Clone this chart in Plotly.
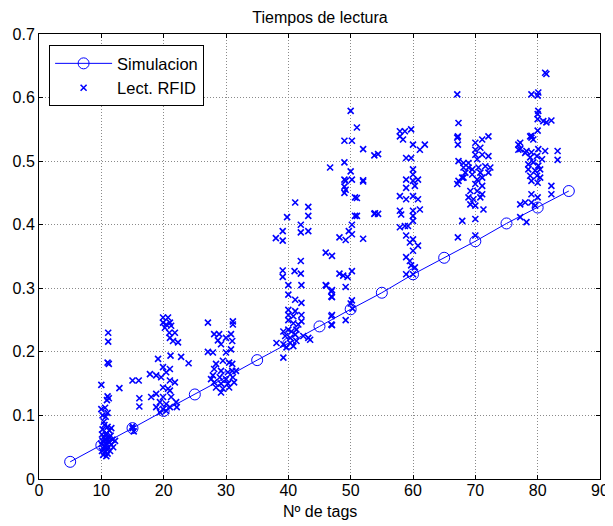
import plotly.graph_objects as go

sim_x = [5, 10, 15, 20, 25, 30, 35, 40, 45, 50, 55, 60, 65, 70, 75, 80, 85]
sim_y = [0.027, 0.053, 0.080, 0.107, 0.133, 0.160, 0.187, 0.213, 0.240, 0.267,
         0.293, 0.322, 0.348, 0.374, 0.402, 0.427, 0.453]

# Lect. RFID readings, grouped by cluster (x, y)
pts_10 = [(10.0,0.148),(11.1,0.230),(11.1,0.216),(11.0,0.183),(11.2,0.181),(11.0,0.130),
          (11.2,0.127),(10.9,0.124),(10.0,0.110),(10.6,0.112),(10.2,0.100),(10.7,0.098),
          (11.0,0.104),(10.5,0.085),(11.0,0.082),(10.2,0.078),(11.3,0.076),(10.8,0.072),
          (10.1,0.070),(11.5,0.068),(10.4,0.066),(11.0,0.064),(10.6,0.062),(11.8,0.062),
          (10.2,0.060),(11.3,0.058),(10.8,0.056),(10.0,0.055),(11.6,0.054),(10.5,0.052),
          (11.1,0.050),(10.3,0.048),(11.9,0.050),(10.9,0.046),(10.1,0.044),(11.4,0.044),
          (10.6,0.042),(11.0,0.040),(10.3,0.038),(10.8,0.036),(11.2,0.065),(10.7,0.070),
          (11.6,0.080),(12.2,0.060),(10.4,0.090)]
pts_15 = [(12.9,0.143),(15.0,0.155),(16.0,0.155),(16.1,0.127),(16.1,0.114),(15.0,0.083),
          (15.2,0.075),(15.0,0.080)]
pts_20 = [(19.9,0.254),(20.7,0.254),(19.9,0.246),(20.4,0.243),(21.0,0.246),(20.2,0.238),
          (21.2,0.241),(20.9,0.230),(21.8,0.230),(21.0,0.222),(21.5,0.217),(22.3,0.215),
          (19.1,0.189),(21.1,0.194),(22.8,0.192),(24.0,0.182),(19.9,0.176),(21.0,0.173),
          (20.4,0.168),(17.8,0.165),(18.8,0.163),(19.6,0.160),(21.0,0.155),(21.8,0.152),
          (19.9,0.144),(20.7,0.142),(21.0,0.139),(18.8,0.134),(19.9,0.129),(21.2,0.129),
          (19.4,0.121),(20.4,0.118),(22.0,0.121),(18.8,0.113),(19.9,0.110),(21.0,0.113),
          (22.1,0.113),(19.4,0.105),(20.4,0.107),(18.0,0.129)]
pts_30 = [(27.1,0.246),(31.1,0.248),(31.1,0.243),(28.1,0.228),(28.9,0.228),(28.7,0.218),
          (30.0,0.222),(30.8,0.228),(31.0,0.217),(29.2,0.212),(27.1,0.200),(27.9,0.199),
          (30.0,0.199),(30.8,0.204),(28.4,0.181),(29.5,0.186),(30.5,0.183),(31.0,0.181),
          (28.1,0.173),(29.2,0.170),(30.3,0.168),(31.0,0.170),(27.9,0.163),(29.0,0.160),
          (30.0,0.157),(31.1,0.160),(28.1,0.152),(29.2,0.150),(30.3,0.150),(31.3,0.152),
          (28.4,0.144),(29.5,0.142),(30.5,0.144),(27.6,0.157),(31.6,0.170),(29.2,0.136)]
pts_40 = [(40.0,0.305),(42.1,0.305),(46.1,0.304),(46.9,0.295),(46.9,0.287),(40.0,0.290),
          (41.1,0.282),(42.1,0.277),(40.0,0.266),(41.1,0.264),(40.0,0.258),(40.8,0.256),
          (42.1,0.258),(42.1,0.248),(40.0,0.250),(40.8,0.245),(41.6,0.243),(39.2,0.232),
          (40.0,0.235),(40.5,0.232),(41.3,0.235),(39.5,0.225),(40.3,0.222),(41.1,0.227),
          (42.4,0.225),(43.2,0.222),(38.1,0.214),(39.2,0.212),(40.3,0.214),(41.3,0.217),
          (39.7,0.207),(40.8,0.209),(39.2,0.191),(46.9,0.256),(46.9,0.243),(43.5,0.219),
          (41.1,0.435),(43.2,0.428),(43.2,0.414),(39.8,0.412),(42.0,0.400),(42.0,0.388),
          (43.2,0.390),(39.1,0.390),(38.0,0.379),(39.1,0.375),(42.0,0.343),(39.1,0.328),
          (39.1,0.318),(41.0,0.327),(42.0,0.323)]
pts_50 = [(46.0,0.356),(47.0,0.351),(46.0,0.305),(47.0,0.297),(47.0,0.286),(47.0,0.258),
          (47.0,0.242),(49.2,0.250),(48.2,0.380),(49.2,0.376),(49.7,0.390),(50.2,0.400),
          (50.2,0.385),(50.7,0.414),(50.7,0.443),(52.0,0.378),(53.9,0.418),(49.2,0.469),
          (49.2,0.455),(52.0,0.470),(48.2,0.323),(48.8,0.320),(49.5,0.318),(49.2,0.302),
          (50.2,0.327),(50.0,0.276),(50.2,0.281),(50.3,0.268),(50.0,0.579),(51.0,0.553),
          (49.0,0.532),(50.2,0.532),(52.0,0.519),(53.8,0.509),(46.7,0.490),(49.0,0.498),
          (50.0,0.484),(49.0,0.471),(50.2,0.471),(52.0,0.468),(49.0,0.460),(49.0,0.450),
          (51.0,0.442),(51.0,0.414),(53.8,0.417),(54.4,0.511),(54.4,0.417)]
pts_60 = [(57.9,0.547),(58.7,0.547),(59.7,0.550),(57.9,0.539),(58.4,0.534),(60.0,0.526),
          (61.1,0.518),(61.9,0.526),(58.9,0.505),(59.7,0.505),(60.0,0.487),(60.0,0.479),
          (58.9,0.471),(60.0,0.469),(60.8,0.471),(58.9,0.458),(60.3,0.461),(57.9,0.445),
          (58.9,0.440),(60.0,0.445),(60.8,0.440),(61.1,0.424),(57.9,0.422),(58.1,0.416),
          (60.0,0.422),(60.0,0.414),(60.0,0.406),(57.9,0.396),(58.7,0.398),(59.2,0.398),
          (58.9,0.383),(60.0,0.377),(59.5,0.372),(60.8,0.367),(60.0,0.359),(58.9,0.349),
          (59.5,0.343),(59.7,0.336),(60.3,0.333),(58.9,0.322),(60.0,0.322)]
pts_70 = [(67.3,0.560),(67.2,0.539),(67.2,0.526),(70.0,0.529),(71.1,0.534),(72.1,0.539),
          (70.0,0.518),(70.8,0.521),(70.0,0.510),(71.1,0.510),(72.1,0.508),(70.3,0.503),
          (67.3,0.500),(68.1,0.497),(68.9,0.497),(68.1,0.490),(68.9,0.490),(69.5,0.487),
          (70.5,0.490),(71.6,0.492),(72.4,0.490),(68.4,0.482),(69.5,0.479),(70.8,0.482),
          (72.1,0.482),(68.1,0.474),(70.3,0.471),(71.1,0.474),(67.3,0.469),(67.9,0.474),
          (67.1,0.464),(70.0,0.464),(71.1,0.461),(69.2,0.453),(70.3,0.453),(71.1,0.448),
          (68.9,0.443),(69.7,0.440),(70.8,0.443),(69.2,0.432),(70.0,0.430),(71.3,0.424),
          (67.9,0.406),(70.0,0.409),(67.2,0.380),(70.0,0.383),(67.1,0.605),(67.1,0.537)]
pts_80 = [(81.2,0.639),(81.4,0.637),(79.0,0.605),(80.1,0.608),(80.0,0.603),(80.1,0.579),
          (80.0,0.574),(80.0,0.566),(80.9,0.563),(81.4,0.561),(82.2,0.564),(80.0,0.548),
          (79.0,0.537),(79.0,0.540),(77.2,0.529),(77.2,0.519),(78.2,0.516),(79.0,0.514),
          (80.1,0.519),(81.2,0.516),(83.2,0.516),(83.2,0.502),(78.8,0.506),(79.9,0.508),
          (80.7,0.503),(78.5,0.495),(79.3,0.498),(80.1,0.493),(78.5,0.487),(79.6,0.485),
          (80.4,0.487),(78.8,0.477),(79.9,0.477),(80.4,0.474),(79.0,0.469),(80.0,0.466),
          (82.2,0.461),(82.2,0.448),(79.0,0.448),(80.0,0.443),(77.2,0.432),(78.0,0.435),
          (79.0,0.435),(79.6,0.430),(77.2,0.412),(78.2,0.404),(76.9,0.526),(76.9,0.518),
          (78.8,0.539),(79.3,0.534),(78.0,0.513)]

all_pts = pts_10 + pts_15 + pts_20 + pts_30 + pts_40 + pts_50 + pts_60 + pts_70 + pts_80
rfid_x = [p[0] for p in all_pts]
rfid_y = [p[1] for p in all_pts]

x_ticks = [0, 10, 20, 30, 40, 50, 60, 70, 80, 90]
y_ticks = [0, 0.1, 0.2, 0.3, 0.4, 0.5, 0.6, 0.7]

BLUE = "#0000FF"
FONT = "Liberation Sans, Arial, sans-serif"
FS = 16

fig = go.Figure()
fig.add_trace(go.Scatter(
    x=sim_x, y=sim_y, mode="lines+markers", name="Simulacion",
    line=dict(color=BLUE, width=1),
    marker=dict(symbol="circle-open", size=11, color=BLUE, line=dict(width=1, color=BLUE)),
))
fig.add_trace(go.Scatter(
    x=rfid_x, y=rfid_y, mode="markers", name="Lect. RFID",
    marker=dict(symbol="x-thin", size=6, color=BLUE, line=dict(width=1.6, color=BLUE)),
))

axis_common = dict(
    showline=True, linecolor="black", linewidth=1, mirror="ticks",
    ticks="inside", ticklen=4, tickcolor="black",
    showgrid=True, gridcolor="#8a8a8a", griddash="1px,2px", gridwidth=1,
    zeroline=False, automargin=False,
    tickfont=dict(family=FONT, size=FS, color="black"),
)

# page has an 8px body offset: figure is sized/offset to compensate
fig.update_layout(
    width=605, height=518,
    margin=dict(l=31, r=13, t=26, b=47),
    paper_bgcolor="white", plot_bgcolor="white",
    title=dict(text="Tiempos de lectura", x=312 / 605, xanchor="center",
               y=1 - 9 / 518, yanchor="middle",
               font=dict(family=FONT, size=FS, color="black")),
    xaxis=dict(range=[0, 90], tickvals=x_ticks, ticktext=[str(v) for v in x_ticks],
               ticklabelstandoff=-3, **axis_common),
    yaxis=dict(range=[0, 0.7], tickvals=y_ticks, ticktext=[("%g" % v) for v in y_ticks],
               **axis_common),
    annotations=[dict(text="Nº de tags", xref="paper", yref="paper", x=0.5, y=-0.074,
                      xanchor="center", yanchor="middle", showarrow=False,
                      font=dict(family=FONT, size=FS, color="black"))],
    legend=dict(x=0.018, y=0.975, xanchor="left", yanchor="top",
                bgcolor="white", bordercolor="black", borderwidth=1,
                font=dict(family=FONT, size=16.5, color="black"),
                itemwidth=57, tracegroupgap=0),
    showlegend=True,
)

fig.write_html("out.html")
